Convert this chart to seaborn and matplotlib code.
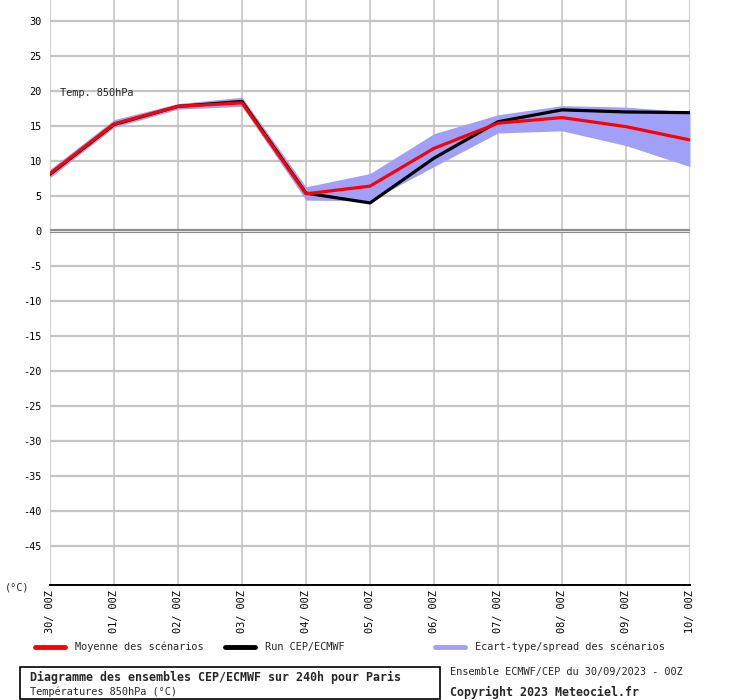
import numpy as np
import pandas as pd
import matplotlib
matplotlib.use("Agg")
import matplotlib.pyplot as plt
from matplotlib.lines import Line2D
from matplotlib.patches import Rectangle
import seaborn as sns

# ---- data ----
dates = ["30/ 00Z", "01/ 00Z", "02/ 00Z", "03/ 00Z", "04/ 00Z", "05/ 00Z",
         "06/ 00Z", "07/ 00Z", "08/ 00Z", "09/ 00Z", "10/ 00Z"]
mean_vals = [8.2, 15.3, 17.8, 18.3, 5.3, 6.4, 11.8, 15.4, 16.2, 14.9, 13.0]
run_vals = [8.1, 15.2, 17.8, 18.5, 5.4, 4.0, 10.4, 15.6, 17.3, 17.0, 16.9]
spread_hi = [8.8, 15.9, 18.2, 19.1, 6.3, 8.2, 13.9, 16.6, 17.9, 17.7, 17.0]
spread_lo = [7.6, 14.8, 17.4, 17.8, 4.4, 4.3, 9.2, 14.0, 14.3, 12.2, 9.2]
y_ticks = list(range(30, -50, -5))

x = np.arange(len(dates))
df = pd.DataFrame({"x": x, "mean": mean_vals, "run": run_vals})

sns.set_style("white")
plt.rcParams["font.family"] = ["DejaVu Sans Mono", "DejaVu Sans"]

fig = plt.figure(figsize=(7.4, 7.0), dpi=100)
W, H = 740, 700
ax = fig.add_axes([50 / W, (H - 585) / H, 640 / W, 585 / H])

ax.set_xlim(0, 10)
ax.set_ylim(-50.6, 33)

# grid
for yv in y_ticks:
    ax.axhline(yv, color="#c4c4c4", lw=1.6, zorder=1)
for xv in x:
    ax.axvline(xv, color="#c4c4c4", lw=1.2, zorder=1)
ax.axhline(0, color="#8c8c8c", lw=3.0, zorder=1.5)
ax.axhline(0, color="#e8e8e8", lw=0.7, zorder=1.6)

ax.fill_between(x, spread_lo, spread_hi, color="#a0a0f8", lw=0, zorder=2)
sns.lineplot(data=df, x="x", y="run", color="black", lw=2.3, ax=ax, zorder=3)
sns.lineplot(data=df, x="x", y="mean", color="#ff0000", lw=2.3, ax=ax, zorder=4)

for s in ["top", "left", "right"]:
    ax.spines[s].set_visible(False)
ax.spines["bottom"].set_color("black")
ax.spines["bottom"].set_linewidth(1.4)

ax.set_xticks(x)
ax.set_xticklabels(dates, rotation=90, va="top", ha="center")
ax.set_yticks(y_ticks)
ax.set_yticklabels([str(v) for v in y_ticks])
ax.tick_params(axis="both", length=0, labelsize=7.4, colors="black")
ax.tick_params(axis="y", pad=6)
ax.tick_params(axis="x", pad=4)
ax.set_xlabel("")
ax.set_ylabel("")

ax.text(0.15, 19.75, "Temp. 850hPa", fontsize=7.4, ha="left", va="center", zorder=5)

def fx(px):
    return px / W

def fy(py):
    return (H - py) / H

fig.text(fx(5), fy(587), "(°C)", fontsize=7.4, ha="left", va="center")

# legend
legend_items = [(35, 65, "#ff0000", "Moyenne des scénarios"),
                (225, 255, "black", "Run CEP/ECMWF"),
                (435, 465, "#a0a0f8", "Ecart-type/spread des scénarios")]
for x0, x1, c, lab in legend_items:
    fig.add_artist(Line2D([fx(x0), fx(x1)], [fy(647), fy(647)], color=c, lw=3.5,
                          transform=fig.transFigure))
    fig.text(fx(x1 + 10), fy(647), lab, fontsize=7.4, ha="left", va="center")

fig.add_artist(Rectangle((fx(20), fy(699)), 420 / W, 32 / H, fill=False,
                         edgecolor="black", lw=1.2, transform=fig.transFigure))
fig.text(fx(30), fy(677), "Diagramme des ensembles CEP/ECMWF sur 240h pour Paris",
         fontsize=8.35, fontweight="bold", ha="left", va="center")
fig.text(fx(30), fy(692), "Températures 850hPa (°C)", fontsize=7.4, ha="left", va="center")
fig.text(fx(450), fy(672), "Ensemble ECMWF/CEP du 30/09/2023 - 00Z", fontsize=7.4,
         ha="left", va="center")
fig.text(fx(450), fy(692), "Copyright 2023 Meteociel.fr", fontsize=8.35,
         fontweight="bold", ha="left", va="center")

fig.savefig("out.png", dpi=100, facecolor="white")
